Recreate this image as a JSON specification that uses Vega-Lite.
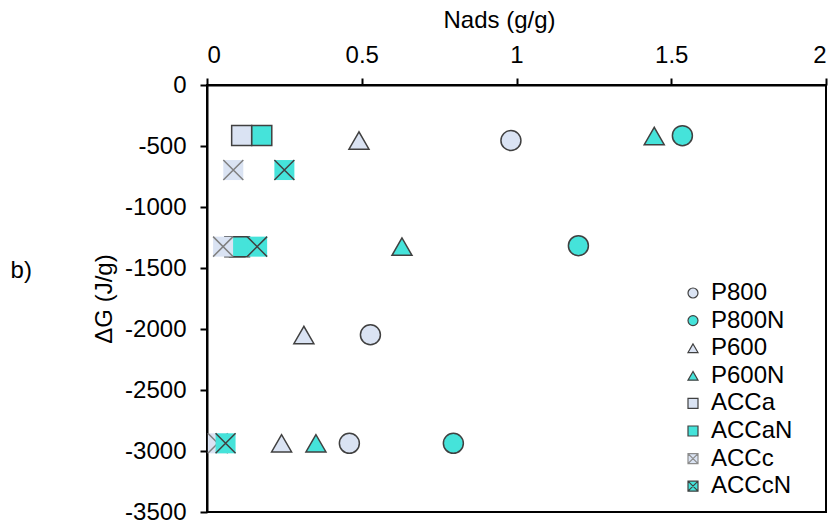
{
  "$schema": "https://vega.github.io/schema/vega-lite/v6.json",
  "width": 619,
  "height": 427,
  "autosize": {"type": "none"},
  "padding": {"left": 207, "top": 85, "right": 6, "bottom": 13},
  "background": "white",
  "config": {
    "font": "Liberation Sans",
    "view": {"stroke": "black", "strokeWidth": 2},
    "axis": {
      "labelFont": "Liberation Sans",
      "titleFont": "Liberation Sans",
      "labelFontSize": 24,
      "titleFontSize": 24,
      "titleFontWeight": "normal",
      "labelColor": "black",
      "titleColor": "black",
      "domainColor": "black",
      "domainWidth": 2,
      "tickColor": "black",
      "tickWidth": 2,
      "tickSize": 7,
      "grid": false
    }
  },
  "title": {
    "text": "b)",
    "orient": "left",
    "angle": 0,
    "anchor": "middle",
    "baseline": "middle",
    "fontSize": 24,
    "fontWeight": "normal",
    "font": "Liberation Sans",
    "color": "black",
    "offset": 50,
    "dy": -28
  },
  "data": {
    "values": [
      {"series": "P800", "nads": 0.982, "dg": -455},
      {"series": "P800", "nads": 0.528, "dg": -2047},
      {"series": "P800", "nads": 0.46, "dg": -2937},
      {"series": "P800N", "nads": 1.536, "dg": -415},
      {"series": "P800N", "nads": 1.2, "dg": -1317},
      {"series": "P800N", "nads": 0.796, "dg": -2937},
      {"series": "P600", "nads": 0.491, "dg": -455},
      {"series": "P600", "nads": 0.313, "dg": -2049},
      {"series": "P600", "nads": 0.241, "dg": -2937},
      {"series": "P600N", "nads": 1.445, "dg": -418},
      {"series": "P600N", "nads": 0.63, "dg": -1325},
      {"series": "P600N", "nads": 0.352, "dg": -2937},
      {"series": "ACCa", "nads": 0.112, "dg": -414},
      {"series": "ACCa", "nads": 0.09, "dg": -1325},
      {"series": "ACCaN", "nads": 0.177, "dg": -414},
      {"series": "ACCaN", "nads": 0.105, "dg": -1325},
      {"series": "ACCc", "nads": 0.085, "dg": -697},
      {"series": "ACCc", "nads": 0.052, "dg": -1325},
      {"series": "ACCc", "nads": 0.035, "dg": -2937},
      {"series": "ACCcN", "nads": 0.25, "dg": -697},
      {"series": "ACCcN", "nads": 0.162, "dg": -1325},
      {"series": "ACCcN", "nads": 0.06, "dg": -2937}
    ]
  },
  "encoding": {
    "x": {
      "field": "nads",
      "type": "quantitative",
      "scale": {"domain": [0, 2], "nice": false, "zero": false},
      "axis": {
        "orient": "top",
        "title": "Nads (g/g)",
        "titleX": 292,
        "values": [0, 0.5, 1, 1.5, 2],
        "labelExpr": "'' + datum.value",
        "labelPadding": 11,
        "titlePadding": 11
      }
    },
    "y": {
      "field": "dg",
      "type": "quantitative",
      "scale": {"domain": [-3500, 0], "nice": false, "zero": false},
      "axis": {
        "title": "ΔG (J/g)",
        "values": [0, -500, -1000, -1500, -2000, -2500, -3000, -3500],
        "labelExpr": "'' + datum.value",
        "labelPadding": 14,
        "titlePadding": 8
      }
    }
  },
  "layer": [
    {
      "transform": [{"filter": "indexof(['P800','P800N','P600','P600N','ACCa','ACCaN'], datum.series) >= 0"}],
      "mark": {"type": "point", "filled": true, "size": 400, "strokeWidth": 1.5, "opacity": 1},
      "encoding": {
        "shape": {
          "field": "series",
          "type": "nominal",
          "scale": {
            "domain": ["P800", "P800N", "P600", "P600N", "ACCa", "ACCaN", "ACCc", "ACCcN"],
            "range": ["circle", "circle", "triangle-up", "triangle-up", "square", "square", "M-1,-1H1V1H-1ZM-1,-1L1,1M1,-1L-1,1", "M-1,-1H1V1H-1ZM-1,-1L1,1M1,-1L-1,1"]
          },
          "legend": {
            "title": null,
            "orient": "none",
            "legendX": 474,
            "legendY": 196,
            "symbolSize": 100,
            "symbolStrokeWidth": 1.2,
            "labelFont": "Liberation Sans",
            "labelFontSize": 24,
            "labelColor": "black",
            "labelOffset": 6,
            "rowPadding": 3.6
          }
        },
        "fill": {
          "field": "series",
          "type": "nominal",
          "scale": {
            "domain": ["P800", "P800N", "P600", "P600N", "ACCa", "ACCaN", "ACCc", "ACCcN"],
            "range": ["#DAE3F3", "#45E3DA", "#DAE3F3", "#45E3DA", "#DAE3F3", "#45E3DA", "#DAE3F3", "#45E3DA"]
          }
        },
        "stroke": {
          "field": "series",
          "type": "nominal",
          "scale": {
            "domain": ["P800", "P800N", "P600", "P600N", "ACCa", "ACCaN", "ACCc", "ACCcN"],
            "range": ["#404040", "#404040", "#404040", "#404040", "#404040", "#404040", "#8C8C8C", "#404040"]
          }
        }
      }
    },
    {
      "transform": [{"filter": "datum.series == 'ACCc'"}],
      "mark": {"type": "point", "filled": true, "shape": "square", "size": 400, "fill": "#DAE3F3", "strokeWidth": 0, "opacity": 1},
      "encoding": {}
    },
    {
      "transform": [{"filter": "datum.series == 'ACCc'"}],
      "mark": {"type": "point", "filled": false, "shape": "M-1,-1L1,1M1,-1L-1,1", "size": 400, "stroke": "#7F7F7F", "strokeWidth": 1.5, "opacity": 1},
      "encoding": {}
    },
    {
      "transform": [{"filter": "datum.series == 'ACCcN'"}],
      "mark": {"type": "point", "filled": true, "shape": "square", "size": 400, "fill": "#45E3DA", "strokeWidth": 0, "opacity": 1},
      "encoding": {}
    },
    {
      "transform": [{"filter": "datum.series == 'ACCcN'"}],
      "mark": {"type": "point", "filled": false, "shape": "M-1,-1L1,1M1,-1L-1,1", "size": 400, "stroke": "#404040", "strokeWidth": 1.5, "opacity": 1},
      "encoding": {}
    }
  ]
}
